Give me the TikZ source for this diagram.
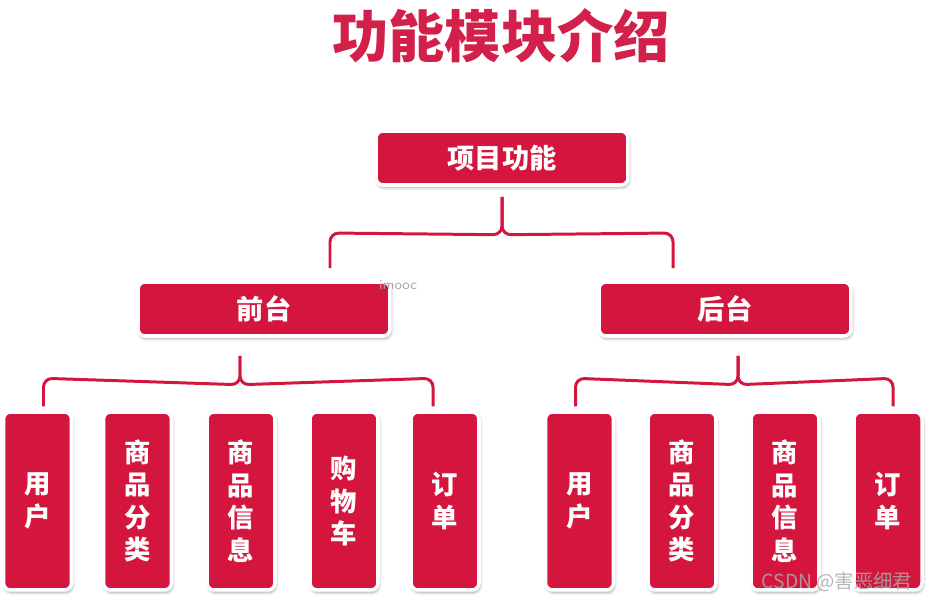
\documentclass[tikz,border=0pt]{standalone}
\usepackage{fontspec}
\newfontfamily\cjk{Noto Sans CJK SC}
\usetikzlibrary{shadows.blur,positioning,calc}
\definecolor{fnRed}{HTML}{D4163E}
\definecolor{fnTitle}{HTML}{D3204A}
\definecolor{fnGray}{HTML}{A8A8A8}

\begin{document}
\begin{tikzpicture}[x=0.02cm,y=-0.02cm,
  font=\cjk\bfseries,
  box/.style={rounded corners=4pt,fill=fnRed,draw=white,line width=2pt,text=white,
              blur shadow={shadow xshift=0.6pt,shadow yshift=-1.4pt,shadow blur steps=6,shadow opacity=35},
              inner sep=0pt,align=center},
  wide/.style={box,minimum width=5.04cm,minimum height=1.08cm,
               font=\cjk\bfseries\fontsize{15.5}{18}\selectfont},
  leaf/.style={box,minimum width=1.36cm,minimum height=3.56cm,
               font=\cjk\bfseries\fontsize{15}{18.5}\selectfont},
  link/.style={draw=fnRed,line width=1.7pt,rounded corners=5pt},
  wmark/.style={text=fnGray,inner sep=0pt},
]
\useasboundingbox (0,0) rectangle (929,605);

\node[text=fnTitle,font=\cjk\bfseries\fontsize{32}{36}\selectfont] (title) at (501,36) {功能模块介绍};

% tree
\node[wide] (top)  at (502,158) {项目功能};
\node[wide] (front) at (264,309) {前台};
\node[wide] (back)  at (725,309) {后台};

\node[leaf] (f1) at (37.5,501) {用\\户};
\node[leaf] (f2) at (137.5,501) {商\\品\\分\\类};
\node[leaf] (f3) at (241,501) {商\\品\\信\\息};
\node[leaf] (f4) at (344,501) {购\\物\\车};
\node[leaf] (f5) at (445,501) {订\\单};

\node[leaf] (b1) at (579.5,501) {用\\户};
\node[leaf] (b2) at (682,501) {商\\品\\分\\类};
\node[leaf] (b3) at (785,501) {商\\品\\信\\息};
\node[leaf] (b4) at (888,501) {订\\单};

% braces
\coordinate (tl) at (330,268);
\coordinate (tr) at (673,268);
\draw[link] (tl) -- (tl |- 0,233) -- ($(top.south)+(0,48)$) -- ($(top.south)+(0,10)$);
\draw[link] (tr) -- (tr |- 0,233) -- ($(top.south)+(0,48)$) -- ($(top.south)+(0,10)$);

\draw[link] ($(f1.north)+(6,-4)$) -- ($(f1.north)+(6,-32)$) -- ($(front.south)+(-24,47)$) -- ($(front.south)+(-24,18)$);
\draw[link] ($(f5.north)+(-12,-4)$) -- ($(f5.north)+(-12,-32)$) -- ($(front.south)+(-24,47)$) -- ($(front.south)+(-24,18)$);

\draw[link] ($(b1.north)+(-4,-4)$) -- ($(b1.north)+(-4,-32)$) -- ($(back.south)+(13,47)$) -- ($(back.south)+(13,18)$);
\draw[link] ($(b4.north)+(5,-4)$) -- ($(b4.north)+(5,-32)$) -- ($(back.south)+(13,47)$) -- ($(back.south)+(13,18)$);

% watermarks
\node[wmark,font=\sffamily\fontsize{8}{9}\selectfont] (wm1) at (398,285) {imooc};
\node[wmark,font=\cjk\fontsize{11}{13}\selectfont,text opacity=0.85] (wm2) at (837,582) {CSDN @害恶细君};
\end{tikzpicture}
\end{document}
